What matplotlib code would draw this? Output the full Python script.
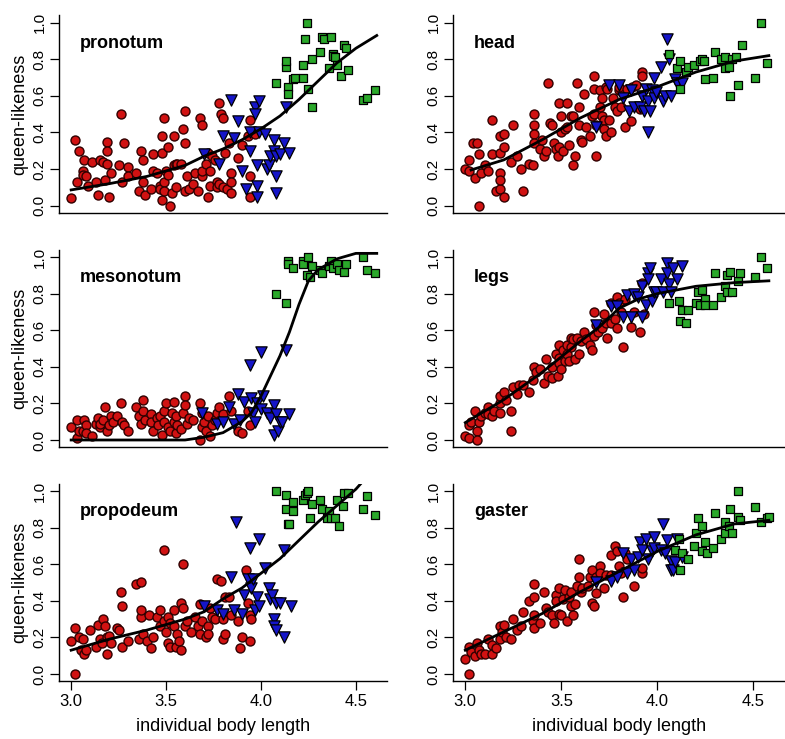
import matplotlib
matplotlib.use("Agg")
import matplotlib.pyplot as plt

plt.rcParams['font.family'] = ['Liberation Sans', 'DejaVu Sans']

# ---------------- pronotum ----------------
pro_w_x = [3.00, 3.02, 3.04, 3.03, 3.06, 3.06, 3.07, 3.08, 3.11, 3.09, 3.13, 3.14, 3.15, 3.17, 3.18, 3.19,
           3.19, 3.19, 3.20, 3.21, 3.26, 3.27, 3.28, 3.25, 3.30, 3.30, 3.34, 3.36, 3.37, 3.38, 3.38, 3.39,
           3.42, 3.43, 3.43, 3.45, 3.47, 3.47, 3.48, 3.48, 3.49, 3.48, 3.49, 3.49, 3.50, 3.51, 3.51, 3.52,
           3.53, 3.54, 3.54, 3.55, 3.55, 3.56, 3.58, 3.59, 3.60, 3.60, 3.60, 3.61, 3.62, 3.64, 3.65, 3.67,
           3.68, 3.69, 3.69, 3.69, 3.71, 3.72, 3.72, 3.73, 3.73, 3.74, 3.76, 3.77, 3.77, 3.78, 3.78, 3.79,
           3.80, 3.80, 3.81, 3.82, 3.83, 3.84, 3.84, 3.84, 3.88, 3.90, 3.93, 3.94, 3.94, 3.94, 3.96, 3.97]
pro_w_y = [0.04, 0.36, 0.30, 0.13, 0.19, 0.17, 0.25, 0.16, 0.24, 0.11, 0.13, 0.06, 0.25, 0.24, 0.14, 0.35,
           0.30, 0.23, 0.05, 0.18, 0.50, 0.13, 0.34, 0.22, 0.21, 0.16, 0.18, 0.08, 0.30, 0.25, 0.13, 0.06,
           0.09, 0.28, 0.19, 0.18, 0.11, 0.09, 0.03, 0.38, 0.48, 0.29, 0.13, 0.08, 0.19, 0.17, 0.32, 0.00,
           0.07, 0.38, 0.22, 0.23, 0.10, 0.23, 0.23, 0.42, 0.52, 0.34, 0.08, 0.16, 0.09, 0.12, 0.18, 0.08,
           0.48, 0.44, 0.16, 0.19, 0.23, 0.05, 0.29, 0.19, 0.11, 0.27, 0.25, 0.13, 0.10, 0.56, 0.12, 0.50,
           0.48, 0.10, 0.29, 0.09, 0.34, 0.18, 0.13, 0.07, 0.26, 0.33, 0.38, 0.47, 0.16, 0.05, 0.40, 0.39]
pro_i_x = [3.70, 3.78, 3.80, 3.84, 3.86, 3.88, 3.90, 3.92, 3.94, 3.94, 3.97, 3.97, 3.98, 3.98, 3.98,
           3.99, 3.99, 4.02, 4.03, 4.04, 4.05, 4.07, 4.07, 4.08, 4.08, 4.08, 4.10, 4.12, 4.13, 4.15]
pro_i_y = [0.28, 0.23, 0.38, 0.58, 0.37, 0.46, 0.19, 0.09, 0.40, 0.30, 0.54, 0.50, 0.22, 0.11, 0.05,
           0.57, 0.40, 0.39, 0.20, 0.22, 0.27, 0.36, 0.30, 0.16, 0.07, 0.27, 0.28, 0.34, 0.54, 0.29]
pro_q_x = [4.08, 4.13, 4.13, 4.14, 4.14, 4.17, 4.18, 4.22, 4.22, 4.23, 4.24, 4.25, 4.27, 4.27, 4.31,
           4.32, 4.33, 4.36, 4.37, 4.38, 4.38, 4.39, 4.40, 4.42, 4.44, 4.45, 4.46, 4.54, 4.56, 4.60]
pro_q_y = [0.67, 0.76, 0.79, 0.65, 0.61, 0.69, 0.70, 0.77, 0.70, 0.91, 1.00, 0.64, 0.54, 0.80, 0.84,
           0.92, 0.91, 0.75, 0.92, 0.83, 0.82, 0.81, 0.77, 0.71, 0.88, 0.86, 0.74, 0.58, 0.59, 0.63]
pro_fit_x = [3.00, 3.20, 3.40, 3.60, 3.70, 3.80, 3.90, 4.00, 4.10, 4.20, 4.30, 4.40, 4.50, 4.61]
pro_fit_y = [0.086, 0.12, 0.16, 0.22, 0.27, 0.31, 0.36, 0.42, 0.49, 0.58, 0.68, 0.78, 0.86, 0.93]

# ---------------- head ----------------
head_w_x = [3.00, 3.02, 3.02, 3.04, 3.06, 3.05, 3.07, 3.07, 3.08, 3.10, 3.12, 3.14, 3.14, 3.16, 3.18, 3.18,
            3.18, 3.18, 3.18, 3.20, 3.20, 3.20, 3.24, 3.25, 3.27, 3.29, 3.30, 3.33, 3.35, 3.36, 3.36, 3.36,
            3.36, 3.39, 3.40, 3.41, 3.42, 3.43, 3.44, 3.45, 3.46, 3.47, 3.48, 3.49, 3.49, 3.50, 3.50, 3.51,
            3.52, 3.53, 3.53, 3.54, 3.55, 3.56, 3.56, 3.57, 3.58, 3.59, 3.59, 3.60, 3.61, 3.62, 3.63, 3.65,
            3.66, 3.67, 3.67, 3.67, 3.68, 3.68, 3.70, 3.70, 3.71, 3.71, 3.72, 3.72, 3.73, 3.73, 3.74, 3.75,
            3.76, 3.77, 3.78, 3.79, 3.80, 3.80, 3.81, 3.83, 3.84, 3.86, 3.87, 3.89, 3.91, 3.92, 3.92]
head_w_y = [0.20, 0.19, 0.25, 0.34, 0.34, 0.15, 0.00, 0.28, 0.18, 0.22, 0.19, 0.47, 0.28, 0.08, 0.09, 0.29,
            0.38, 0.18, 0.14, 0.05, 0.39, 0.32, 0.24, 0.44, 0.27, 0.20, 0.08, 0.23, 0.22, 0.50, 0.44, 0.39,
            0.34, 0.31, 0.36, 0.27, 0.30, 0.67, 0.45, 0.44, 0.34, 0.31, 0.27, 0.32, 0.56, 0.49, 0.40, 0.30,
            0.42, 0.43, 0.56, 0.33, 0.49, 0.49, 0.22, 0.27, 0.67, 0.54, 0.44, 0.36, 0.35, 0.61, 0.43, 0.38,
            0.49, 0.71, 0.64, 0.50, 0.27, 0.44, 0.63, 0.54, 0.59, 0.49, 0.47, 0.42, 0.38, 0.65, 0.64, 0.47,
            0.40, 0.59, 0.54, 0.52, 0.63, 0.65, 0.54, 0.43, 0.64, 0.46, 0.65, 0.66, 0.53, 0.73, 0.71]
head_i_x = [3.68, 3.75, 3.80, 3.82, 3.85, 3.86, 3.88, 3.91, 3.92, 3.93, 3.94, 3.95, 3.95, 3.96, 3.97,
            3.98, 3.98, 3.99, 4.02, 4.03, 4.04, 4.05, 4.06, 4.07, 4.09, 4.10, 4.13]
head_i_y = [0.43, 0.66, 0.66, 0.59, 0.52, 0.63, 0.54, 0.54, 0.60, 0.52, 0.64, 0.57, 0.40, 0.52, 0.63,
            0.59, 0.70, 0.62, 0.76, 0.57, 0.60, 0.91, 0.80, 0.60, 0.69, 0.67, 0.67]
head_q_x = [4.06, 4.10, 4.12, 4.12, 4.15, 4.16, 4.19, 4.22, 4.23, 4.24, 4.25, 4.29, 4.30, 4.33, 4.35,
            4.35, 4.37, 4.38, 4.39, 4.41, 4.42, 4.44, 4.51, 4.54, 4.57]
head_q_y = [0.83, 0.75, 0.64, 0.79, 0.73, 0.76, 0.77, 0.79, 0.80, 0.79, 0.69, 0.70, 0.84, 0.80, 0.75,
            0.81, 0.76, 0.60, 0.80, 0.81, 0.66, 0.88, 0.70, 1.00, 0.78]
head_fit_x = [3.03, 3.20, 3.40, 3.60, 3.80, 4.00, 4.20, 4.40, 4.58]
head_fit_y = [0.195, 0.25, 0.36, 0.48, 0.58, 0.65, 0.73, 0.79, 0.82]

# ---------------- mesonotum ----------------
meso_w_x = [3.00, 3.03, 3.03, 3.04, 3.07, 3.06, 3.08, 3.08, 3.11, 3.13, 3.14, 3.15, 3.15, 3.17, 3.18, 3.19,
            3.20, 3.21, 3.22, 3.24, 3.26, 3.27, 3.28, 3.30, 3.34, 3.36, 3.37, 3.38, 3.38, 3.39, 3.42, 3.42,
            3.43, 3.45, 3.46, 3.47, 3.48, 3.49, 3.49, 3.50, 3.51, 3.52, 3.53, 3.54, 3.54, 3.55, 3.55, 3.56,
            3.58, 3.59, 3.60, 3.60, 3.61, 3.62, 3.64, 3.68, 3.68, 3.69, 3.69, 3.70, 3.71, 3.72, 3.73, 3.74,
            3.76, 3.77, 3.78, 3.80, 3.83, 3.84, 3.88, 3.90, 3.93, 3.94]
meso_w_y = [0.07, 0.11, 0.01, 0.05, 0.11, 0.05, 0.08, 0.04, 0.02, 0.09, 0.12, 0.07, 0.09, 0.11, 0.18, 0.05,
            0.08, 0.13, 0.10, 0.13, 0.20, 0.10, 0.08, 0.05, 0.18, 0.13, 0.09, 0.22, 0.16, 0.11, 0.14, 0.10,
            0.05, 0.12, 0.08, 0.13, 0.03, 0.16, 0.10, 0.20, 0.07, 0.05, 0.15, 0.10, 0.21, 0.04, 0.13, 0.08,
            0.06, 0.15, 0.24, 0.19, 0.09, 0.12, 0.11, 0.20, 0.00, 0.07, 0.15, 0.10, 0.05, 0.13, 0.02, 0.08,
            0.11, 0.15, 0.18, 0.14, 0.24, 0.16, 0.05, 0.04, 0.16, 0.08]
meso_i_x = [3.69, 3.77, 3.80, 3.83, 3.86, 3.88, 3.89, 3.91, 3.94, 3.95, 3.96, 3.97, 3.98, 4.00, 4.00,
            4.01, 4.03, 4.05, 4.07, 4.07, 4.08, 4.09, 4.10, 4.11, 4.13, 4.15]
meso_i_y = [0.15, 0.09, 0.10, 0.18, 0.09, 0.25, 0.11, 0.21, 0.41, 0.23, 0.15, 0.10, 0.20, 0.48, 0.17,
            0.24, 0.15, 0.12, 0.03, 0.19, 0.14, 0.05, 0.10, 0.10, 0.49, 0.14]
meso_q_x = [4.08, 4.13, 4.14, 4.14, 4.17, 4.22, 4.22, 4.24, 4.25, 4.26, 4.27, 4.31, 4.32, 4.36, 4.37,
            4.38, 4.40, 4.41, 4.44, 4.45, 4.54, 4.56, 4.60]
meso_q_y = [0.80, 0.75, 0.98, 0.96, 0.94, 0.98, 0.96, 0.90, 1.00, 0.89, 0.95, 0.93, 0.91, 0.95, 0.98,
            0.94, 0.96, 0.93, 0.92, 0.96, 1.00, 0.93, 0.91]
meso_fit_x = [3.00, 3.60, 3.70, 3.80, 3.90, 3.95, 4.00, 4.05, 4.10, 4.15, 4.20, 4.25, 4.30, 4.40, 4.50, 4.61]
meso_fit_y = [0.00, 0.00, 0.015, 0.04, 0.10, 0.15, 0.24, 0.35, 0.46, 0.59, 0.74, 0.87, 0.93, 0.99, 1.02, 1.02]

# ---------------- legs ----------------
legs_w_x = [3.00, 3.02, 3.02, 3.03, 3.05, 3.06, 3.06, 3.07, 3.08, 3.10, 3.12, 3.12, 3.14, 3.15, 3.18, 3.18,
            3.18, 3.20, 3.21, 3.24, 3.24, 3.25, 3.27, 3.28, 3.30, 3.33, 3.35, 3.36, 3.37, 3.39, 3.41, 3.42,
            3.43, 3.45, 3.45, 3.47, 3.48, 3.49, 3.49, 3.49, 3.50, 3.51, 3.52, 3.53, 3.53, 3.54, 3.55, 3.55,
            3.56, 3.57, 3.58, 3.59, 3.60, 3.62, 3.63, 3.65, 3.66, 3.67, 3.67, 3.68, 3.69, 3.71, 3.72, 3.73,
            3.74, 3.76, 3.76, 3.78, 3.79, 3.79, 3.80, 3.81, 3.82, 3.83, 3.86, 3.88, 3.91, 3.92, 3.93]
legs_w_y = [0.02, 0.01, 0.08, 0.10, 0.16, 0.05, 0.00, 0.10, 0.13, 0.15, 0.18, 0.14, 0.13, 0.16, 0.20, 0.24,
            0.15, 0.26, 0.22, 0.05, 0.16, 0.29, 0.25, 0.30, 0.30, 0.26, 0.33, 0.40, 0.37, 0.39, 0.31, 0.44,
            0.35, 0.34, 0.40, 0.47, 0.35, 0.52, 0.45, 0.42, 0.39, 0.49, 0.43, 0.52, 0.47, 0.43, 0.56, 0.51,
            0.55, 0.44, 0.56, 0.47, 0.54, 0.59, 0.55, 0.52, 0.49, 0.70, 0.57, 0.63, 0.59, 0.61, 0.69, 0.64,
            0.56, 0.75, 0.64, 0.66, 0.61, 0.78, 0.75, 0.70, 0.51, 0.77, 0.62, 0.70, 0.59, 0.86, 0.69]
legs_i_x = [3.68, 3.76, 3.79, 3.82, 3.84, 3.86, 3.88, 3.90, 3.92, 3.92, 3.94, 3.95, 3.95, 3.96, 3.97,
            3.98, 3.99, 4.02, 4.03, 4.05, 4.05, 4.06, 4.07, 4.08, 4.10, 4.13]
legs_i_y = [0.63, 0.73, 0.73, 0.67, 0.79, 0.67, 0.80, 0.78, 0.67, 0.84, 0.74, 0.91, 0.88, 0.94, 0.76,
            0.81, 0.81, 0.88, 0.81, 0.97, 0.91, 0.85, 0.81, 0.94, 0.88, 0.95]
legs_q_x = [4.06, 4.11, 4.12, 4.13, 4.15, 4.16, 4.20, 4.21, 4.23, 4.22, 4.25, 4.25, 4.29, 4.30, 4.33,
            4.35, 4.36, 4.36, 4.38, 4.39, 4.42, 4.43, 4.51, 4.54, 4.57]
legs_q_y = [0.75, 0.76, 0.65, 0.71, 0.64, 0.71, 0.75, 0.81, 0.82, 0.74, 0.77, 0.74, 0.74, 0.91, 0.78,
            0.84, 0.81, 0.90, 0.92, 0.81, 0.87, 0.91, 0.89, 1.00, 0.94]
legs_fit_x = [3.00, 3.20, 3.40, 3.60, 3.70, 3.80, 3.90, 4.00, 4.10, 4.20, 4.30, 4.40, 4.58]
legs_fit_y = [0.095, 0.22, 0.37, 0.54, 0.62, 0.72, 0.77, 0.80, 0.82, 0.84, 0.85, 0.86, 0.87]

# ---------------- propodeum ----------------
prop_w_x = [3.00, 3.02, 3.02, 3.04, 3.05, 3.06, 3.07, 3.08, 3.10, 3.13, 3.14, 3.15, 3.16, 3.17, 3.18, 3.19,
            3.19, 3.20, 3.21, 3.24, 3.26, 3.27, 3.27, 3.25, 3.30, 3.34, 3.36, 3.37, 3.37, 3.37, 3.38, 3.40,
            3.41, 3.42, 3.43, 3.45, 3.47, 3.47, 3.49, 3.49, 3.50, 3.51, 3.51, 3.52, 3.52, 3.54, 3.54, 3.55,
            3.56, 3.57, 3.58, 3.58, 3.59, 3.59, 3.60, 3.61, 3.63, 3.65, 3.67, 3.68, 3.68, 3.69, 3.71, 3.72,
            3.72, 3.73, 3.74, 3.76, 3.77, 3.79, 3.80, 3.80, 3.81, 3.81, 3.83, 3.84, 3.88, 3.89, 3.90, 3.92,
            3.93, 3.94, 3.94, 3.95]
prop_w_y = [0.18, 0.25, 0.00, 0.20, 0.13, 0.19, 0.11, 0.13, 0.24, 0.15, 0.27, 0.19, 0.17, 0.30, 0.26, 0.11,
            0.20, 0.21, 0.17, 0.25, 0.45, 0.37, 0.15, 0.24, 0.18, 0.49, 0.19, 0.31, 0.35, 0.50, 0.22, 0.18,
            0.32, 0.14, 0.20, 0.31, 0.35, 0.26, 0.68, 0.29, 0.23, 0.17, 0.31, 0.28, 0.15, 0.35, 0.26, 0.15,
            0.22, 0.18, 0.13, 0.39, 0.36, 0.60, 0.26, 0.29, 0.23, 0.31, 0.26, 0.22, 0.38, 0.29, 0.20, 0.26,
            0.22, 0.36, 0.31, 0.30, 0.52, 0.51, 0.19, 0.30, 0.42, 0.22, 0.42, 0.32, 0.29, 0.14, 0.20, 0.57,
            0.39, 0.18, 0.32, 0.30]
prop_i_x = [3.70, 3.77, 3.80, 3.84, 3.86, 3.87, 3.90, 3.91, 3.93, 3.94, 3.95, 3.96, 3.97, 3.98, 3.99,
            3.99, 4.02, 4.04, 4.05, 4.06, 4.07, 4.07, 4.08, 4.08, 4.10, 4.12, 4.12, 4.16]
prop_i_y = [0.37, 0.35, 0.33, 0.53, 0.35, 0.83, 0.33, 0.43, 0.52, 0.69, 0.47, 0.52, 0.35, 0.42, 0.74,
            0.37, 0.58, 0.47, 0.41, 0.43, 0.30, 0.26, 0.39, 0.24, 0.39, 0.20, 0.68, 0.37]
prop_q_x = [4.08, 4.13, 4.13, 4.14, 4.15, 4.17, 4.17, 4.22, 4.23, 4.24, 4.25, 4.26, 4.27, 4.31, 4.32,
            4.35, 4.36, 4.37, 4.39, 4.40, 4.41, 4.43, 4.44, 4.46, 4.54, 4.56, 4.60]
prop_q_y = [1.00, 0.98, 0.90, 0.82, 0.82, 0.94, 0.89, 0.95, 0.98, 0.99, 1.00, 0.85, 0.93, 0.95, 0.90,
            0.85, 0.89, 0.85, 0.85, 0.95, 0.81, 0.92, 0.99, 0.99, 0.90, 0.97, 0.87]
prop_fit_x = [3.00, 3.20, 3.40, 3.60, 3.70, 3.80, 3.90, 4.00, 4.10, 4.20, 4.30, 4.40, 4.50, 4.56]
prop_fit_y = [0.13, 0.19, 0.24, 0.30, 0.34, 0.41, 0.47, 0.55, 0.63, 0.73, 0.83, 0.92, 1.01, 1.08]

# ---------------- gaster ----------------
gas_w_x = [3.00, 3.02, 3.02, 3.03, 3.05, 3.06, 3.07, 3.08, 3.10, 3.12, 3.14, 3.14, 3.16, 3.18, 3.18, 3.19,
           3.20, 3.21, 3.24, 3.25, 3.27, 3.29, 3.30, 3.33, 3.35, 3.36, 3.36, 3.36, 3.36, 3.39, 3.41, 3.42,
           3.43, 3.45, 3.46, 3.47, 3.47, 3.49, 3.49, 3.50, 3.51, 3.52, 3.53, 3.54, 3.55, 3.55, 3.56, 3.57,
           3.58, 3.59, 3.59, 3.60, 3.61, 3.64, 3.65, 3.66, 3.66, 3.67, 3.68, 3.68, 3.70, 3.70, 3.72, 3.73,
           3.76, 3.76, 3.78, 3.79, 3.80, 3.81, 3.82, 3.83, 3.84, 3.88, 3.92, 3.92]
gas_w_y = [0.08, 0.00, 0.15, 0.12, 0.10, 0.17, 0.13, 0.11, 0.11, 0.19, 0.16, 0.11, 0.14, 0.19, 0.26, 0.23,
           0.27, 0.20, 0.19, 0.30, 0.24, 0.26, 0.34, 0.40, 0.29, 0.32, 0.49, 0.42, 0.25, 0.28, 0.45, 0.36,
           0.34, 0.32, 0.28, 0.43, 0.40, 0.47, 0.33, 0.32, 0.41, 0.46, 0.29, 0.42, 0.37, 0.45, 0.32, 0.38,
           0.48, 0.53, 0.63, 0.45, 0.47, 0.48, 0.53, 0.57, 0.39, 0.37, 0.53, 0.44, 0.59, 0.55, 0.47, 0.54,
           0.54, 0.65, 0.70, 0.67, 0.59, 0.55, 0.42, 0.66, 0.63, 0.48, 0.55, 0.58]
gas_i_x = [3.68, 3.76, 3.79, 3.82, 3.84, 3.86, 3.88, 3.90, 3.91, 3.92, 3.94, 3.95, 3.97, 3.98, 3.98,
           4.02, 4.03, 4.04, 4.05, 4.07, 4.07, 4.08, 4.09, 4.10, 4.13]
gas_i_y = [0.50, 0.51, 0.53, 0.66, 0.55, 0.63, 0.57, 0.64, 0.72, 0.68, 0.74, 0.63, 0.67, 0.75, 0.69,
           0.68, 0.82, 0.66, 0.73, 0.62, 0.57, 0.57, 0.61, 0.74, 0.64]
gas_q_x = [4.09, 4.11, 4.12, 4.13, 4.16, 4.19, 4.20, 4.21, 4.23, 4.23, 4.25, 4.26, 4.29, 4.30, 4.33,
           4.35, 4.35, 4.37, 4.38, 4.39, 4.42, 4.43, 4.42, 4.51, 4.54, 4.57, 4.58]
gas_q_y = [0.68, 0.74, 0.57, 0.66, 0.63, 0.70, 0.77, 0.85, 0.81, 0.67, 0.72, 0.66, 0.69, 0.88, 0.74,
           0.77, 0.83, 0.81, 0.90, 0.77, 0.86, 0.84, 1.00, 0.91, 0.83, 0.85, 0.86]
gas_fit_x = [3.00, 3.20, 3.40, 3.60, 3.80, 4.00, 4.20, 4.40, 4.58]
gas_fit_y = [0.13, 0.23, 0.33, 0.45, 0.56, 0.67, 0.76, 0.82, 0.84]

panel_names = ["pronotum", "head", "mesonotum", "legs", "propodeum", "gaster"]
yticks = [0.0, 0.2, 0.4, 0.6, 0.8, 1.0]
xticks = [3.0, 3.5, 4.0, 4.5]

panels = [
    (pro_w_x, pro_w_y, pro_i_x, pro_i_y, pro_q_x, pro_q_y, pro_fit_x, pro_fit_y),
    (head_w_x, head_w_y, head_i_x, head_i_y, head_q_x, head_q_y, head_fit_x, head_fit_y),
    (meso_w_x, meso_w_y, meso_i_x, meso_i_y, meso_q_x, meso_q_y, meso_fit_x, meso_fit_y),
    (legs_w_x, legs_w_y, legs_i_x, legs_i_y, legs_q_x, legs_q_y, legs_fit_x, legs_fit_y),
    (prop_w_x, prop_w_y, prop_i_x, prop_i_y, prop_q_x, prop_q_y, prop_fit_x, prop_fit_y),
    (gas_w_x, gas_w_y, gas_i_x, gas_i_y, gas_q_x, gas_q_y, gas_fit_x, gas_fit_y),
]

fig = plt.figure(figsize=(7.85, 7.39), dpi=100)

col_left = [59 / 785, 453 / 785]
col_width = [328 / 785, 332 / 785]
row_bottom = [0.7118, 0.3947, 0.0781]
row_height = 0.2674

for k, (name, data) in enumerate(zip(panel_names, panels)):
    r, c = k // 2, k % 2
    ax = fig.add_axes([col_left[c], row_bottom[r], col_width[c], row_height])
    wx, wy, ix, iy, qx, qy, fx, fy = data

    ax.scatter(wx, wy, s=42, marker='o', c='#d11212', edgecolors='#300000', linewidths=1.0, zorder=2)
    ax.scatter(ix, iy, s=66, marker='v', c='#1515c8', edgecolors='black', linewidths=0.9, zorder=3)
    ax.scatter(qx, qy, s=32, marker='s', c='#2aa82a', edgecolors='black', linewidths=0.9, zorder=3)
    ax.plot(fx, fy, color='black', lw=2.0, zorder=4)

    ax.set_xlim(2.936, 4.664)
    ax.set_ylim(-0.04, 1.04)
    ax.spines['top'].set_visible(False)
    ax.spines['right'].set_visible(False)
    for sp in ['left', 'bottom']:
        ax.spines[sp].set_linewidth(1.0)

    ax.set_yticks(yticks)
    ax.set_yticklabels(["%.1f" % v for v in yticks], rotation=90, va='center', fontsize=11)
    ax.tick_params(axis='y', length=6.5, width=0.9, pad=2.5)

    if r == 2:
        ax.set_xticks(xticks)
        ax.set_xticklabels(["%.1f" % v for v in xticks], fontsize=12)
        ax.tick_params(axis='x', length=6.5, width=0.9, pad=3)
        ax.set_xlabel("individual body length", fontsize=13, labelpad=6)
    else:
        ax.set_xticks([])

    if c == 0:
        ax.set_ylabel("queen-likeness", fontsize=13, labelpad=3)

    ax.text(0.064, 0.86, name, transform=ax.transAxes, fontsize=13,
            fontweight='bold', ha='left', va='center')

fig.savefig("out.png", dpi=100)
